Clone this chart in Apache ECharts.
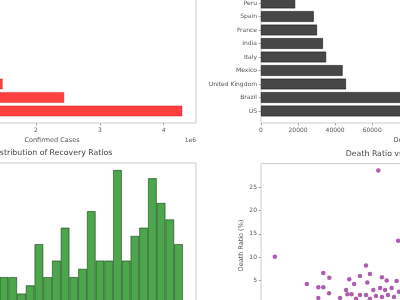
<!DOCTYPE html>
<html>
<head>
<meta charset="utf-8">
<script src="https://cdn.jsdelivr.net/npm/echarts@6/dist/echarts.min.js"></script>
<style>
  html, body { margin: 0; padding: 0; background: #fff; }
  #main { width: 400px; height: 300px; }
</style>
</head>
<body>
<div id="main"></div>
<script>
// top 10 confirmed (bottom to top)
const confirmedCountries = ["US", "Brazil", "India", "Russia", "South Africa", "Mexico", "Peru", "Chile", "United Kingdom", "Iran"];
const confirmedValues = [4290259, 2442375, 1480073, 816680, 452529, 395489, 389717, 347923, 301708, 293606];

// top 10 deaths (bottom to top)
const deathCountries = ["US", "Brazil", "United Kingdom", "Mexico", "Italy", "India", "France", "Spain", "Peru", "Iran"];
const deathValues = [148011, 87618, 45844, 44022, 35112, 33408, 30212, 28432, 18418, 15912];

// recovery ratio histogram, visible bins (30 bins over 0-100)
const binStarts = [30, 33.33, 36.67, 40, 43.33, 46.67, 50, 53.33, 56.67, 60, 63.33, 66.67, 70, 73.33, 76.67, 80, 83.33, 86.67, 90, 93.33, 96.67];
const binCounts = [4, 4, 2, 3, 8, 4, 6, 10, 4, 5, 12, 6, 6, 17, 6, 9, 10, 16, 13, 11, 8];

// scatter: recovery ratio vs death ratio
const recoveryRatio = [39.8, 47.4, 0.3, 35.1, 18.8, 21.1, 12.5, 16.9, 18.8, 21.0, 16.9, 28.7, 30.6, 32.8, 36.6, 35.6, 41.2, 43.0, 46.8, 27.5, 28.0, 29.6, 32.8, 35.1, 37.9, 40.5, 42.4, 44.9, 38.9, 41.2, 43.5, 45.8, 47.7, 36.6, 31.3, 25.2];
const deathRatio = [28.5, 13.5, 10.1, 8.2, 6.6, 5.6, 4.3, 3.6, 3.6, 2.3, 1.3, 5.3, 4.3, 6.0, 6.4, 4.6, 5.7, 5.0, 4.9, 3.0, 2.1, 2.1, 1.9, 1.9, 3.0, 3.4, 3.0, 3.4, 1.7, 1.5, 1.9, 1.5, 2.6, 1.1, 1.1, 1.3];

const binWidth = 100 / 30;
const font = "DejaVu Sans";
const textColor = "#555";
const spine = "#cccccc";

let myChart = echarts.init(document.getElementById("main"), null, { renderer: "canvas" });

const panelW = 288;
const topY = -22.5, topH = 145.5;
const band = topH / 10.78;
const dataBottom = topY + topH - 0.39 * band;

function frameGrid(left, top, height) {
  return { left: left, top: top, width: panelW, height: height, show: true, borderColor: spine, borderWidth: 1, backgroundColor: "transparent", containLabel: false, outerBoundsMode: "none" };
}
function dataGrid(left) {
  return { left: left, top: dataBottom - 10 * band, width: panelW, height: 10 * band, containLabel: false, outerBoundsMode: "none" };
}
const tick = { show: true, length: 2.5, lineStyle: { color: "#999", width: 0.8 } };
const noLine = { show: false, onZero: false };
const lbl = { fontSize: 6, color: textColor, fontFamily: font, margin: 4 };
const nameStyle = { fontSize: 6.5, color: textColor, fontFamily: font };
const titleStyle = { fontSize: 7.8, color: "#444", fontFamily: font };

const histPx = panelW / 110 * binWidth;

myChart.setOption({
  backgroundColor: "#ffffff",
  animation: false,
  graphic: [{
    type: "text",
    right: 400 - 196,
    top: 137,
    style: { text: "1e6", fontSize: 6, fill: textColor, fontFamily: font }
  }],
  grid: [
    frameGrid(-92, topY, topH),
    dataGrid(-92),
    frameGrid(261, topY, topH),
    dataGrid(261),
    frameGrid(-92, 163, 147),
    { left: 261, top: 163.6, width: panelW, height: 163.8, show: true, borderColor: spine, borderWidth: 1, containLabel: false, outerBoundsMode: "none" },
  ],
  xAxis: [
    {
      gridIndex: 0, type: "value", min: 0, max: 4504772, interval: 1000000,
      axisLine: noLine, axisTick: tick, splitLine: { show: false },
      axisLabel: Object.assign({}, lbl, { showMaxLabel: false, formatter: (v) => String(v / 1e6) }),
      name: "Confirmed Cases", nameLocation: "middle", nameGap: 14, nameTextStyle: nameStyle,
    },
    { gridIndex: 1, type: "value", min: 0, max: 4504772, show: false },
    {
      gridIndex: 2, type: "value", min: 0, max: 155411, interval: 20000,
      axisLine: noLine, axisTick: tick, splitLine: { show: false },
      axisLabel: Object.assign({}, lbl, { showMaxLabel: false, formatter: (v) => String(v) }),
      name: "Deaths", nameLocation: "middle", nameGap: 14, nameTextStyle: nameStyle,
    },
    { gridIndex: 3, type: "value", min: 0, max: 155411, show: false },
    {
      gridIndex: 4, type: "value", min: -5, max: 105,
      axisLine: noLine, axisTick: tick, splitLine: { show: false }, axisLabel: lbl,
    },
    {
      gridIndex: 4, type: "value", position: "top",
      axisLine: noLine, axisTick: { show: false }, axisLabel: { show: false }, splitLine: { show: false },
      name: "Distribution of Recovery Ratios", nameLocation: "middle", nameGap: 6, nameTextStyle: titleStyle,
    },
    {
      gridIndex: 5, type: "value", min: -5, max: 105,
      axisLine: noLine, axisTick: tick, splitLine: { show: false }, axisLabel: lbl,
    },
    {
      gridIndex: 5, type: "value", position: "top",
      axisLine: noLine, axisTick: { show: false }, axisLabel: { show: false }, splitLine: { show: false },
      name: "Death Ratio vs Recovery Ratio", nameLocation: "middle", nameGap: 6, nameTextStyle: titleStyle,
    },
  ],
  yAxis: [
    { gridIndex: 0, type: "value", show: false },
    {
      gridIndex: 1, type: "category", data: confirmedCountries,
      axisLine: noLine, axisTick: Object.assign({ alignWithLabel: true }, tick), axisLabel: lbl,
    },
    { gridIndex: 2, type: "value", show: false },
    {
      gridIndex: 3, type: "category", data: deathCountries,
      axisLine: noLine, axisTick: Object.assign({ alignWithLabel: true }, tick), axisLabel: lbl,
    },
    {
      gridIndex: 4, type: "value", min: 0, max: 17.85,
      axisLine: noLine, axisTick: tick, splitLine: { show: false }, axisLabel: lbl,
    },
    {
      gridIndex: 5, type: "value", min: -5, max: 30, interval: 5,
      axisLine: noLine, axisTick: tick, splitLine: { show: false },
      axisLabel: Object.assign({}, lbl, { showMaxLabel: false }),
      name: "Death Ratio (%)", nameLocation: "middle", nameGap: 16, nameMoveOverlap: false, nameTextStyle: nameStyle,
    },
  ],
  series: [
    {
      name: "Confirmed", type: "bar", xAxisIndex: 1, yAxisIndex: 1,
      data: confirmedValues, barCategoryGap: "20%",
      itemStyle: { color: "rgba(255,0,0,0.75)", borderColor: "rgba(190,0,0,0.6)", borderWidth: 0.6 },
    },
    {
      name: "Deaths", type: "bar", xAxisIndex: 3, yAxisIndex: 3,
      data: deathValues, barCategoryGap: "20%",
      itemStyle: { color: "rgba(0,0,0,0.72)", borderColor: "#111", borderWidth: 0.6 },
    },
    {
      name: "Recovery Ratio", type: "bar", xAxisIndex: 4, yAxisIndex: 4,
      data: binStarts.map((b, i) => [b + binWidth / 2, binCounts[i]]),
      barWidth: histPx,
      itemStyle: { color: "rgba(0,128,0,0.7)", borderColor: "rgba(0,40,0,0.7)", borderWidth: 0.7 },
    },
    {
      name: "Death Ratio", type: "scatter", xAxisIndex: 6, yAxisIndex: 5,
      data: recoveryRatio.map((x, i) => [x, deathRatio[i]]),
      symbolSize: 4.5,
      itemStyle: { color: "rgba(128,0,128,0.8)" },
    },
  ],
});
window.onresize = function() {
  myChart.resize();
};
</script>
</body>
</html>
